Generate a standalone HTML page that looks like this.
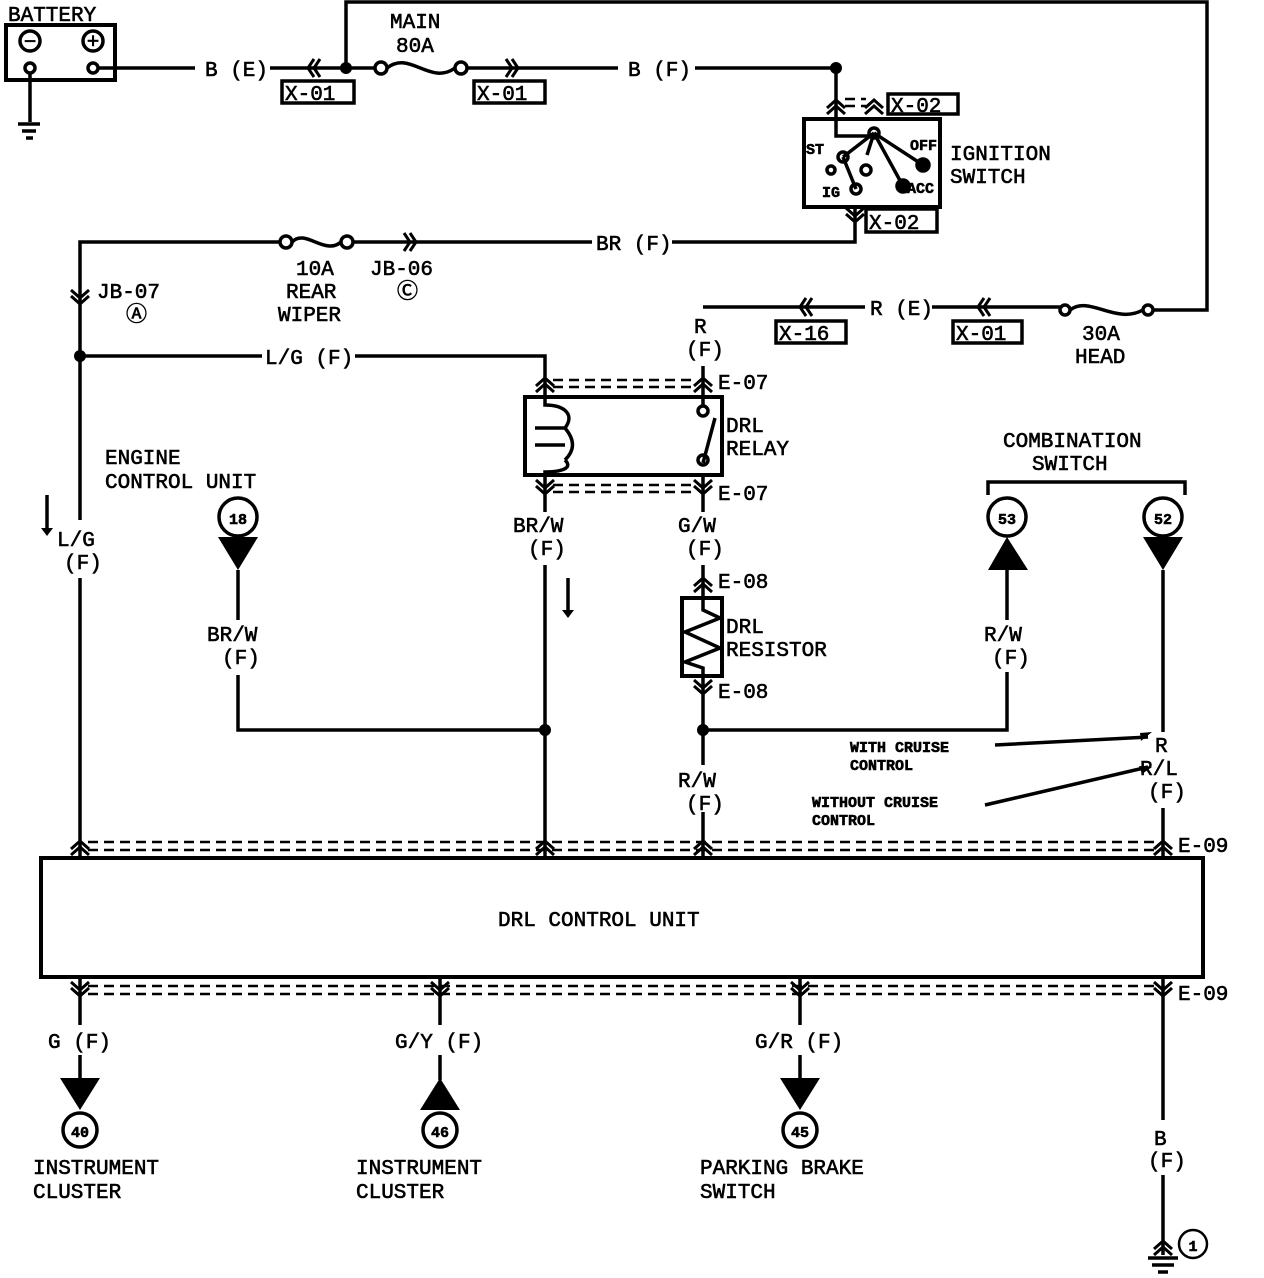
<!DOCTYPE html>
<html><head><meta charset="utf-8"><style>
body{margin:0;background:#fff}
svg{display:block}
text{font-family:"Liberation Mono","DejaVu Sans Mono",monospace;font-size:21px;fill:#000;stroke:#000;stroke-width:0.6}
.s{font-size:15px;font-weight:bold}
</style></head><body>
<svg width="1264" height="1278" viewBox="0 0 1264 1278" xmlns="http://www.w3.org/2000/svg">
<defs>
<path id="cu" d="M-9 4 L0 -4 L9 4 M-9 10 L0 2 L9 10" fill="none" stroke="#000" stroke-width="3"/>
<path id="cd" d="M-9 -4 L0 4 L9 -4 M-9 -10 L0 -2 L9 -10" fill="none" stroke="#000" stroke-width="3"/>
<path id="cl" d="M-4 -9 L-10 0 L-4 9 M2 -9 L-4 0 L2 9" fill="none" stroke="#000" stroke-width="3"/>
<path id="cr" d="M4 -9 L10 0 L4 9 M-2 -9 L4 0 L-2 9" fill="none" stroke="#000" stroke-width="3"/>
</defs>
<g fill="none" stroke="#000" stroke-width="3.5">
<rect x="6" y="25" width="109" height="55" stroke-width="4"/>
<circle cx="30" cy="41" r="10"/><circle cx="93" cy="41" r="10"/>
<circle cx="30" cy="68" r="5"/><circle cx="93" cy="68" r="5"/>
<path d="M30 73 V122 M18 124 H40 M22 131 H36 M26 138 H33"/>
<path d="M98 68 H195 M270 68 H376 M466 68 H618 M695 68 H836 V120"/>
<path d="M346 68 V2 H1207 V310 H1153"/>
<circle cx="381" cy="68" r="6"/><circle cx="461" cy="68" r="6"/>
<path d="M387 68 C410 50 430 86 455 68"/>
<rect x="282" y="81" width="72" height="22"/><rect x="474" y="81" width="71" height="22"/>
<rect x="804" y="119" width="136" height="88" stroke-width="4"/>
<path d="M836 120 V136 H874"/>
<circle cx="874" cy="133" r="5"/>
<path d="M874 133 L923 165 M874 133 L903 186 M874 133 L843 157 M843 157 L856 189 M874 133 L867 155"/>
<circle cx="843" cy="157" r="5"/><circle cx="866" cy="170" r="5"/><circle cx="856" cy="189" r="5"/><circle cx="831" cy="170" r="4"/>
<circle cx="923" cy="165" r="6" fill="#000"/><circle cx="903" cy="186" r="6" fill="#000"/>
<rect x="888" y="94" width="70" height="20"/><rect x="866" y="209" width="71" height="23"/>
<path d="M855 207 V242 H672 M592 242 H352 M280 242 H80 V520 M80 578 V858"/>
<circle cx="286" cy="242" r="6"/><circle cx="347" cy="242" r="6"/>
<path d="M292 242 C305 228 325 256 341 242"/>
<path d="M703 307 H865 M932 307 H1060"/>
<circle cx="1065" cy="310" r="5"/><circle cx="1148" cy="310" r="5"/>
<path d="M1070 310 C1090 295 1115 325 1143 310"/>
<rect x="776" y="321" width="70" height="22"/><rect x="953" y="321" width="69" height="22"/>
<path d="M80 356 H262 M355 356 H545 V396"/>
<rect x="525" y="397" width="197" height="78" stroke-width="4"/>
<path d="M545 396 V405 C565 405 575 415 565 428 M535 428 H565 C575 440 575 450 565 460 M535 445 H565 M565 460 C575 470 555 472 545 472 V475"/>
<path d="M703 366 V406 M703 463 L715 418"/>
<circle cx="703" cy="411" r="5"/><circle cx="703" cy="460" r="5"/>
<path d="M703 475 V512 M545 475 V512 M545 565 V858 M703 565 V598"/>
<rect x="682" y="598" width="40" height="78" stroke-width="4"/>
<path d="M703 598 V610 L720 618 L685 632 L720 648 L685 662 L703 668 V676"/>
<path d="M703 676 V765 M703 812 V858"/>
<path d="M703 730 H1007 V672 M1007 620 V570"/>
<path d="M238 570 V620 M238 675 V730 H545"/>
<circle cx="238" cy="517" r="19"/><circle cx="1007" cy="517" r="19"/><circle cx="1163" cy="517" r="19"/>
<path d="M988 495 V482 H1185 V495"/>
<path d="M1163 570 V732 M1163 808 V858"/>
<path d="M995 745 L1148 737 M985 805 L1148 767"/>
<rect x="41" y="858" width="1162" height="119" stroke-width="4"/>
<path d="M80 977 V1025 M440 977 V1025 M800 977 V1025 M1163 977 V1120 M1163 1175 V1255"/>
<path d="M80 1055 V1080 M440 1055 V1080 M800 1055 V1080"/>
<path d="M1148 1258 H1178 M1152 1265 H1174 M1158 1272 H1168"/>
<circle cx="80" cy="1130" r="17"/><circle cx="440" cy="1130" r="17"/><circle cx="800" cy="1130" r="17"/>
<circle cx="1193" cy="1244" r="14" stroke-width="2.5"/>
<g stroke-width="2.5" stroke-dasharray="10 6">
<path d="M88 842 H1155 M88 850 H1155 M88 986 H1155 M88 994 H1155"/>
<path d="M553 380 H695 M553 387 H695 M553 485 H695 M553 492 H695"/>
<path d="M845 99 H866 M845 106 H866"/>
</g>
<path d="M47 495 V530 M568 578 V612"/>
</g>
<g fill="#000">
<circle cx="346" cy="68" r="6"/><circle cx="836" cy="68" r="6"/><circle cx="80" cy="356" r="6"/>
<circle cx="545" cy="730" r="6"/><circle cx="703" cy="730" r="6"/>
<path d="M218 537 H258 L238 570Z M988 570 H1028 L1007 537Z M1143 537 H1183 L1163 570Z"/>
<path d="M60 1078 H100 L80 1110Z M420 1110 H460 L440 1078Z M780 1078 H820 L800 1110Z"/>
<path d="M41 528 L47 536 L53 528Z M562 610 L568 618 L574 610Z"/>
<path d="M1152 732 L1140 733 L1141 741Z M1152 767 L1139 766 L1142 774Z"/>
</g>
<use href="#cl" x="318" y="68"/><use href="#cr" x="508" y="68"/>
<use href="#cu" x="836" y="104"/><use href="#cu" x="874" y="104"/>
<use href="#cd" x="855" y="218"/><use href="#cr" x="406" y="242"/>
<use href="#cd" x="80" y="300"/><use href="#cl" x="810" y="307"/><use href="#cl" x="988" y="307"/>
<use href="#cu" x="545" y="382"/><use href="#cu" x="703" y="382"/>
<use href="#cd" x="545" y="490"/><use href="#cd" x="703" y="490"/>
<use href="#cu" x="703" y="582"/><use href="#cd" x="703" y="690"/>
<use href="#cu" x="80" y="845"/><use href="#cu" x="545" y="845"/><use href="#cu" x="703" y="845"/><use href="#cu" x="1163" y="845"/>
<use href="#cd" x="80" y="992"/><use href="#cd" x="440" y="992"/><use href="#cd" x="800" y="992"/><use href="#cd" x="1163" y="992"/>
<use href="#cu" x="1163" y="1245"/>
<g>
<text x="8" y="21">BATTERY</text>
<text x="30" y="48" text-anchor="middle" font-size="22">−</text><text x="93" y="48" text-anchor="middle" font-size="22">+</text>
<text x="205" y="76">B (E)</text>
<text x="390" y="28">MAIN</text><text x="396" y="52">80A</text>
<text x="285" y="100" font-size="19">X-01</text><text x="477" y="100" font-size="19">X-01</text>
<text x="628" y="76">B (F)</text>
<text x="891" y="112" font-size="19">X-02</text><text x="869" y="229" font-size="19">X-02</text>
<text x="806" y="154" class="s">ST</text><text x="910" y="150" class="s">OFF</text>
<text x="822" y="197" class="s">IG</text><text x="907" y="193" class="s">ACC</text>
<text x="950" y="160">IGNITION</text><text x="950" y="183">SWITCH</text>
<text x="596" y="250">BR (F)</text>
<text x="296" y="275">10A</text><text x="286" y="298">REAR</text><text x="278" y="321">WIPER</text>
<text x="370" y="275">JB-06</text><text x="397" y="298">Ⓒ</text>
<text x="97" y="298">JB-07</text><text x="126" y="321">Ⓐ</text>
<text x="870" y="315">R (E)</text>
<text x="779" y="340" font-size="19">X-16</text><text x="956" y="340" font-size="19">X-01</text>
<text x="1082" y="340">30A</text><text x="1075" y="363">HEAD</text>
<text x="694" y="333">R</text><text x="686" y="356">(F)</text>
<text x="265" y="364">L/G (F)</text>
<text x="718" y="389">E-07</text><text x="718" y="500">E-07</text>
<text x="726" y="432">DRL</text><text x="726" y="455">RELAY</text>
<text x="105" y="464">ENGINE</text><text x="105" y="488">CONTROL UNIT</text>
<text x="1003" y="447">COMBINATION</text><text x="1032" y="470">SWITCH</text>
<text x="57" y="546">L/G</text><text x="64" y="569">(F)</text>
<text x="513" y="532">BR/W</text><text x="528" y="555">(F)</text>
<text x="678" y="532">G/W</text><text x="686" y="555">(F)</text>
<text x="718" y="588">E-08</text><text x="718" y="698">E-08</text>
<text x="726" y="633">DRL</text><text x="726" y="656">RESISTOR</text>
<text x="207" y="641">BR/W</text><text x="222" y="664">(F)</text>
<text x="984" y="641">R/W</text><text x="992" y="664">(F)</text>
<text x="678" y="787">R/W</text><text x="686" y="810">(F)</text>
<text x="1155" y="752">R</text><text x="1140" y="775">R/L</text><text x="1148" y="798">(F)</text>
<text x="850" y="752" class="s">WITH CRUISE</text><text x="850" y="770" class="s">CONTROL</text>
<text x="812" y="807" class="s">WITHOUT CRUISE</text><text x="812" y="825" class="s">CONTROL</text>
<text x="1178" y="852">E-09</text><text x="1178" y="1000">E-09</text>
<text x="498" y="926">DRL CONTROL UNIT</text>
<text x="48" y="1048">G (F)</text><text x="395" y="1048">G/Y (F)</text><text x="755" y="1048">G/R (F)</text>
<text x="1154" y="1145">B</text><text x="1148" y="1167">(F)</text>
<text x="238" y="524" class="s" text-anchor="middle">18</text><text x="1007" y="524" class="s" text-anchor="middle">53</text><text x="1163" y="524" class="s" text-anchor="middle">52</text>
<text x="80" y="1137" class="s" text-anchor="middle">40</text><text x="440" y="1137" class="s" text-anchor="middle">46</text><text x="800" y="1137" class="s" text-anchor="middle">45</text>
<text x="1193" y="1251" class="s" text-anchor="middle">1</text>
<text x="33" y="1174">INSTRUMENT</text><text x="33" y="1198">CLUSTER</text>
<text x="356" y="1174">INSTRUMENT</text><text x="356" y="1198">CLUSTER</text>
<text x="700" y="1174">PARKING BRAKE</text><text x="700" y="1198">SWITCH</text>
</g>
</svg>
</body></html>
